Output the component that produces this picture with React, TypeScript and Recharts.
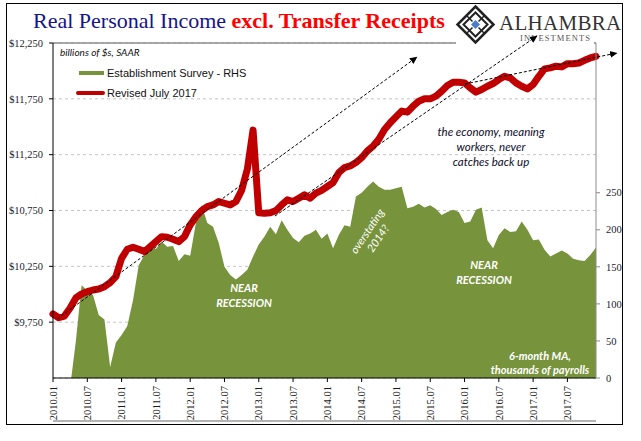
import React from "react";
import {
  ComposedChart,
  Area,
  Line,
  XAxis,
  YAxis,
  CartesianGrid,
  ReferenceLine,
  Legend,
} from "recharts";

// monthly, 2010.01 .. 2017.12
const years = [2010, 2011, 2012, 2013, 2014, 2015, 2016, 2017];
const monthNums = ["01", "02", "03", "04", "05", "06", "07", "08", "09", "10", "11", "12"];
const months: string[] = years.flatMap((y) => monthNums.map((m) => `${y}.${m}`));

const xTicks = [
  "2010.01", "2010.07", "2011.01", "2011.07", "2012.01", "2012.07", "2013.01", "2013.07",
  "2014.01", "2014.07", "2015.01", "2015.07", "2016.01", "2016.07", "2017.01", "2017.07",
];

// Real personal income excl. transfer receipts, billions of $s, SAAR (LHS)
const income = [
  9823, 9790, 9805, 9877, 9967, 10003, 10023, 10038, 10047, 10068, 10104, 10158,
  10322, 10403, 10421, 10403, 10382, 10426, 10471, 10516, 10510, 10493, 10471, 10516,
  10621, 10695, 10749, 10785, 10800, 10830, 10815, 10800, 10830, 10930, 11120, 11470,
  10730, 10725, 10730, 10749, 10800, 10845, 10830, 10860, 10890, 10860, 10905, 10930,
  10965, 11000, 11089, 11134, 11149, 11179, 11223, 11283, 11327, 11387, 11476, 11536,
  11589, 11640, 11631, 11684, 11729, 11750, 11750, 11774, 11818, 11869, 11899, 11899,
  11893, 11848, 11810, 11833, 11863, 11887, 11923, 11952, 11937, 11893, 11863, 11839,
  11878, 11952, 12018, 12027, 12042, 12036, 12065, 12065, 12071, 12095, 12116, 12131,
];

// Establishment survey, 6-month MA, thousands of payrolls (RHS)
const payrolls = [
  -80, -60, -40, -12, 50, 125, 118, 112, 85, 79, 15, 48,
  58, 70, 105, 152, 166, 177, 174, 184, 177, 178, 158, 167,
  165, 209, 233, 209, 204, 182, 150, 139, 133, 139, 146, 164,
  180, 191, 204, 194, 213, 200, 189, 183, 192, 195, 200, 188,
  195, 175, 193, 206, 204, 245, 250, 258, 265, 258, 254, 254,
  256, 258, 229, 231, 235, 230, 233, 228, 220, 224, 227, 224,
  209, 211, 227, 230, 186, 175, 193, 202, 197, 198, 211, 200,
  186, 187, 173, 164, 168, 172, 168, 161, 159, 158, 166, 176,
];

const leftTicks = [9750, 10250, 10750, 11250, 11750, 12250];
const rightTicks = [0, 50, 100, 150, 200, 250];

const seriesNames = { payrolls: "Establishment Survey - RHS", income: "Revised July 2017" };
const GREEN = "#77933c";
const RED = "#c00000";

const rows = months.map((month, i) => ({ month, income: income[i], payrolls: payrolls[i] }));

const serif = '"Liberation Serif", "Times New Roman", serif';
const sans = '"Liberation Sans", Arial, sans-serif';
const calib = 'Lato, "Open Sans", sans-serif';

const XTick = (props: any) => {
  const { x, y, payload } = props;
  return (
    <g transform={`translate(${x},${y + 2})`}>
      <text
        transform="rotate(-90)"
        textAnchor="end"
        dy="0.35em"
        fontFamily={serif}
        fontSize={10.5}
        fill="#1a1a1a"
      >
        {payload.value}
      </text>
    </g>
  );
};

const LegendBox = () => (
  <div style={{ fontFamily: sans, fontSize: 11, color: "#111", lineHeight: "20px" }}>
    <div style={{ display: "flex", alignItems: "center" }}>
      <span style={{ display: "inline-block", width: 25, height: 4, background: GREEN, marginLeft: 3, marginRight: 3 }} />
      <span>{seriesNames.payrolls}</span>
    </div>
    <div style={{ display: "flex", alignItems: "center" }}>
      <span style={{ display: "inline-block", width: 29, height: 4, borderRadius: 2, background: RED, marginRight: 2 }} />
      <span>{seriesNames.income}</span>
    </div>
  </div>
);

const App = () => {
  return (
    <div style={{ position: "absolute", left: 0, top: 0, width: 641, height: 441, background: "#fff", overflow: "hidden" }}>
      <ComposedChart width={641} height={441} data={rows} margin={{ top: 43, right: 15, bottom: 18, left: 0 }}>
        <CartesianGrid yAxisId="left" vertical={false} stroke="#c4c4c4" strokeDasharray="3 3" />
        <XAxis
          dataKey="month"
          ticks={xTicks}
          interval={0}
          tick={<XTick />}
          tickSize={4}
          height={43}
          axisLine={{ stroke: "#000" }}
          tickLine={{ stroke: "#000" }}
        />
        <XAxis xAxisId="base" dataKey="month" tick={false} tickLine={false} height={2} axisLine={{ stroke: "#9a9a9a", strokeWidth: 1.5 }} />
        <YAxis
          yAxisId="left"
          width={53}
          domain={[9250, 12250]}
          ticks={leftTicks}
          allowDataOverflow
          tickFormatter={(v: number) => `$${v.toLocaleString("en-US")}`}
          tickSize={4}
          tickMargin={6}
          axisLine={{ stroke: "#000" }}
          tickLine={{ stroke: "#000" }}
          tick={{ fontFamily: serif, fontSize: 10.5, fill: "#1b1b2f" }}
        />
        <YAxis
          yAxisId="right"
          orientation="right"
          width={30}
          domain={[0, 452]}
          ticks={rightTicks}
          allowDataOverflow
          tickSize={4}
          tickMargin={6}
          axisLine={{ stroke: "#8c8c8c" }}
          tickLine={{ stroke: "#8c8c8c" }}
          tick={{ fontFamily: serif, fontSize: 10.5, fill: "#1b1b2f" }}
        />
        <ReferenceLine yAxisId="left" y={12250} stroke="#8c8c8c" strokeWidth={1.5} />
        <Legend
          layout="vertical"
          align="center"
          verticalAlign="middle"
          content={() => <LegendBox />}
          wrapperStyle={{ left: 76, top: 63, width: 200, height: 40 }}
        />
        <Area
          yAxisId="right"
          dataKey="payrolls"
          name={seriesNames.payrolls}
          type="linear"
          fill={GREEN}
          fillOpacity={1}
          stroke="none"
          isAnimationActive={false}
        />
        <Line
          yAxisId="left"
          dataKey="income"
          name={seriesNames.income}
          type="linear"
          stroke={RED}
          strokeWidth={7}
          strokeLinejoin="round"
          strokeLinecap="round"
          dot={false}
          isAnimationActive={false}
        />
      </ComposedChart>

      <svg width={641} height={441} style={{ position: "absolute", left: 0, top: 0, pointerEvents: "none" }}>
        <defs>
          <marker id="ah" markerWidth="8" markerHeight="8" refX="7" refY="4" orient="auto" markerUnits="userSpaceOnUse">
            <path d="M0,0.5 L7.5,4 L0,7.5 Z" fill="#000" />
          </marker>
        </defs>

        {/* title */}
        <text x={33} y={28} fontFamily={serif} fontSize={22}>
          <tspan fill="#14148a">Real Personal Income </tspan>
          <tspan fill="#ff0000" fontWeight="bold">excl. Transfer Receipts</tspan>
        </text>

        {/* logo */}
        <rect x={456} y={4} width={138} height={40} fill="#fff" />
        <g transform="translate(475.5,24.5)">
          <path d="M0,-18 L18,0 L0,18 L-18,0 Z" fill="none" stroke="#222" strokeWidth={2.5} />
          <path d="M0,-12 L12,0 L0,12 L-12,0 Z" fill="none" stroke="#222" strokeWidth={2} />
          <path d="M-9,-9 L9,9 M-9,9 L9,-9" stroke="#222" strokeWidth={1.5} />
          <path d="M0,-6 L6,0 L0,6 L-6,0 Z" fill="#fff" />
          <path d="M0,-4.5 L4.5,0 L0,4.5 L-4.5,0 Z" fill="#4a7cc9" />
        </g>
        <text x={499} y={29.5} fontFamily={serif} fontSize={21} fill="#333" letterSpacing={0.3}>ALHAMBRA</text>
        <text x={520} y={41} fontFamily={serif} fontSize={8.5} fill="#555" letterSpacing={1.1}>INVESTMENTS</text>

        <text x={60} y={56} fontFamily={calib} fontStyle="italic" fontSize={10} fill="#111">billions of $s, SAAR</text>

        {/* trend arrows */}
        <g stroke="#000" strokeWidth={1} strokeDasharray="3 2" fill="none">
          <line x1={57} y1={319} x2={417} y2={57} markerEnd="url(#ah)" />
          <line x1={275} y1={216} x2={537} y2={36} markerEnd="url(#ah)" />
          <line x1={465} y1={84} x2={617} y2={53} markerEnd="url(#ah)" />
        </g>

        {/* annotations */}
        <text fontFamily={calib} fontStyle="italic" fontSize={11.5} fill="#0d0d2b" textAnchor="middle">
          <tspan x={491} y={136}>the economy, meaning</tspan>
          <tspan x={491} y={151}>workers, never</tspan>
          <tspan x={491} y={166}>catches back up</tspan>
        </text>
        <text fontFamily={calib} fontStyle="italic" fontWeight="bold" fontSize={11} fill="#fff" textAnchor="middle">
          <tspan x={244} y={292}>NEAR</tspan>
          <tspan x={244} y={307}>RECESSION</tspan>
          <tspan x={484} y={269}>NEAR</tspan>
          <tspan x={484} y={284}>RECESSION</tspan>
        </text>
        <text fontFamily={calib} fontStyle="italic" fontWeight="bold" fontSize={11} fill="#fff" textAnchor="middle">
          <tspan x={540} y={360}>6-month MA,</tspan>
          <tspan x={540} y={374}>thousands of payrolls</tspan>
        </text>
        <text
          transform="rotate(-56, 373, 235)"
          fontFamily={calib}
          fontStyle="italic"
          fontSize={11}
          fill="#fff"
          textAnchor="middle"
        >
          <tspan x={373} y={232}>overstating</tspan>
          <tspan x={373} y={245}>2014?</tspan>
        </text>
      </svg>

      <div
        style={{
          position: "absolute",
          left: 6,
          top: 3,
          width: 617,
          height: 422,
          boxSizing: "border-box",
          border: "1.5px solid #000",
          pointerEvents: "none",
        }}
      />
    </div>
  );
};

export default App;
